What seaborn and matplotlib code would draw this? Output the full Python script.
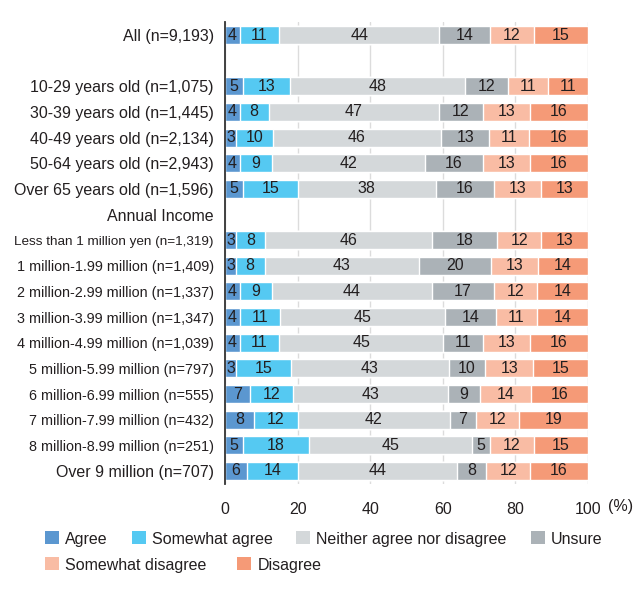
import numpy as np
import pandas as pd
import seaborn as sns
import matplotlib.pyplot as plt
from matplotlib.patches import Patch

# Категории (строки) и значения по ответам, %
rows = ["All (n=9,193)", " ",
        "10-29 years old (n=1,075)", "30-39 years old (n=1,445)",
        "40-49 years old (n=2,134)", "50-64 years old (n=2,943)",
        "Over 65 years old (n=1,596)", "Annual Income",
        "Less than 1 million yen (n=1,319)", "1 million-1.99 million (n=1,409)",
        "2 million-2.99 million (n=1,337)", "3 million-3.99 million (n=1,347)",
        "4 million-4.99 million (n=1,039)", "5 million-5.99 million (n=797)",
        "6 million-6.99 million (n=555)", "7 million-7.99 million (n=432)",
        "8 million-8.99 million (n=251)", "Over 9 million (n=707)"]

nan = np.nan
agree          = [4, nan, 5, 4, 3, 4, 5, nan, 3, 3, 4, 4, 4, 3, 7, 8, 5, 6]
somewhat_agree = [11, nan, 13, 8, 10, 9, 15, nan, 8, 8, 9, 11, 11, 15, 12, 12, 18, 14]
neither        = [44, nan, 48, 47, 46, 42, 38, nan, 46, 43, 44, 45, 45, 43, 43, 42, 45, 44]
unsure         = [14, nan, 12, 12, 13, 16, 16, nan, 18, 20, 17, 14, 11, 10, 9, 7, 5, 8]
somewhat_dis   = [12, nan, 11, 13, 11, 13, 13, nan, 12, 13, 12, 11, 13, 13, 14, 12, 12, 12]
disagree       = [15, nan, 11, 16, 16, 16, 13, nan, 13, 14, 14, 14, 16, 15, 16, 19, 15, 16]

responses = ["Agree", "Somewhat agree", "Neither agree nor disagree", "Unsure",
             "Somewhat disagree", "Disagree"]
colors = ["#5b97d0", "#55c9f2", "#d4d8da", "#abb2b7", "#f9bca4", "#f59a77"]

df = pd.DataFrame(dict(zip(responses, [agree, somewhat_agree, neither, unsure,
                                      somewhat_dis, disagree])), index=rows)

# Нормируем строки к 100%, чтобы полосы заканчивались на 100
shares = df.div(df.sum(axis=1), axis=0) * 100
cum = shares.cumsum(axis=1)

sns.set_style("white")
plt.rcParams['font.family'] = ['Liberation Sans', 'DejaVu Sans']
TXT = "#231f20"

fig = plt.figure(figsize=(6.42, 6.0), dpi=100)
ax = fig.add_axes([0.3505, 0.1937, 0.5655, 0.7693])

# Накопленные полосы, рисуем от последней к первой
for resp, col in reversed(list(zip(responses, colors))):
    sns.barplot(x=cum[resp].values, y=rows, order=rows, orient="h",
                color=col, saturation=1, width=0.7, errorbar=None, ax=ax)

# Подписи значений в центре сегментов
for i, row in enumerate(rows):
    for resp in responses:
        v = df.loc[row, resp]
        if np.isnan(v):
            continue
        center = cum.loc[row, resp] - shares.loc[row, resp] / 2
        ax.text(center, i, f"{int(v)}", ha="center", va="center",
                fontsize=11.5, color=TXT)

ax.set_xlim(0, 100)
ax.set_ylim(len(rows) - 0.5, -0.5)
ax.set_xticks([0, 20, 40, 60, 80, 100])
ax.set_xlabel("")
ax.set_ylabel("")
ax.grid(axis="x", color="#dcdcdc", linewidth=1)
ax.set_axisbelow(True)
for s in ["top", "right", "bottom"]:
    ax.spines[s].set_visible(False)
ax.spines["left"].set_color("#333333")
ax.spines["left"].set_linewidth(1.3)
ax.tick_params(axis="both", length=0, labelsize=11.5, colors=TXT)
ax.tick_params(axis="x", pad=13)
ax.tick_params(axis="y", pad=8)
for lab in ax.get_yticklabels():
    t = lab.get_text()
    if t.startswith("Less than"):
        lab.set_fontsize(9.7)
    elif "million-" in t:
        lab.set_fontsize(10.4)

fig.text(621 / 642, 1 - 507 / 600, "(%)", ha="center", va="center",
         fontsize=11.5, color=TXT)

# Легенда в две строки
handles = [Patch(facecolor=c, edgecolor="none") for c in colors]
common = dict(frameon=False, fontsize=11.5, handlelength=0.875, handleheight=0.875,
              handletextpad=0.375, borderaxespad=0, borderpad=0, labelcolor=TXT)
fig.legend(handles[:4], responses[:4], loc="center left", ncol=4, columnspacing=1.5,
           bbox_to_anchor=(45 / 642, 1 - 539 / 600), **common)
fig.legend(handles[4:], responses[4:], loc="center left", ncol=2, columnspacing=1.95,
           bbox_to_anchor=(45 / 642, 1 - 565 / 600), **common)

fig.savefig("out.png", dpi=100)
